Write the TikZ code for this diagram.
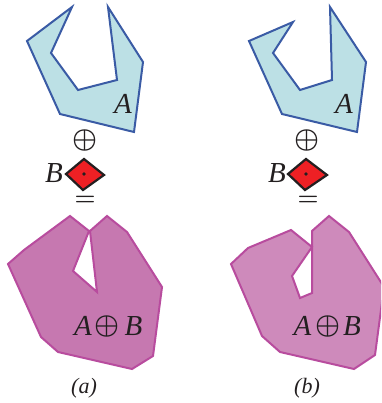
\documentclass[tikz,border=0pt]{standalone}
\usepackage{fix-cm}
\usepackage{fontspec}
\setmainfont{Liberation Serif}
\definecolor{bluefill}{HTML}{BCE0E5}
\definecolor{blueline}{HTML}{3A5BA5}
\definecolor{purpa}{HTML}{C678B0}
\definecolor{purpb}{HTML}{CE8ABB}
\definecolor{purpline}{HTML}{B84C9E}
\definecolor{redfill}{HTML}{EE2024}
\definecolor{inkc}{HTML}{231F20}
\tikzset{
  polya/.style={draw=blueline,fill=bluefill,line width=2pt,line join=miter},
  polysum/.style={draw=purpline,line width=2pt,line join=miter},
  polyb/.style={draw=inkc,fill=redfill,line width=2.2pt,line join=miter},
  lab/.style={inner sep=0pt,text=inkc,font=\fontsize{29}{31}\selectfont\itshape},
  sym/.style={inner sep=0pt,text=inkc,font=\fontsize{28}{30}\selectfont\boldmath},
  eqsym/.style={inner sep=0pt,text=inkc,font=\fontsize{24}{26}\selectfont\boldmath},
  captext/.style={inner sep=0pt,text=inkc,font=\fontsize{22}{24}\selectfont\itshape},
  dotb/.style={circle,fill=inkc,inner sep=0pt,minimum size=3.8pt}
}
\begin{document}
\begin{tikzpicture}[x=1pt,y=-1pt]
\useasboundingbox (0,0) rectangle (381,403);
\clip (0,0) rectangle (381,403);
% (a) top polygon
\draw[polya] (72,7)--(27,41)--(60,114)--(134,132)--(143,62)--(108,7)--(117,80)--(78,90)--(51,53)--cycle;
\node[lab] (la) at (123,104) {A};
\node[sym] (opa) at (85,141) {$\oplus$};
\draw[polyb] (66,174)--(84,159)--(104,175)--(83,190)--cycle;
\node[dotb] (da) at (84,174) {};
\node[lab] (lba) at (54,173) {B};
\node[eqsym] (eqa) at (85,201) {$=$};
% (b) top polygon
\draw[polya] (293,22)--(249,41)--(282,114)--(357,132)--(366,62)--(330,7)--(332,80)--(300,90)--(273,53)--cycle;
\node[lab] (lb) at (344,104) {A};
\node[sym] (opb) at (307,141) {$\oplus$};
\draw[polyb] (288,174)--(306,159)--(327,175)--(305,190)--cycle;
\node[dotb] (db) at (306,174) {};
\node[lab] (lbb) at (277,173) {B};
\node[eqsym] (eqb) at (308,201) {$=$};
% (a) sum
\draw[polysum,fill=purpa] (70,216)--(24,250)--(8,264)--(41,337)--(58,352)--(132,369)--(153,356)--(162,287)--(127,232)--(107,216)--(90,231)--(97,292)--(73,271)--(89,231)--cycle;
\node[lab] (sa1) at (83,326) {A};
\node[sym] (sa2) at (107.5,326) {$\oplus$};
\node[lab] (sa3) at (133.5,326) {B};
\node[captext] (ca) at (84,388) {(a)};
% (b) sum
\draw[polysum,fill=purpb] (291,230)--(248,248)--(231,264)--(262,336)--(280,352)--(354,369)--(375,355)--(384,287)--(349,232)--(329,216)--(312,231)--(312,293)--(300,298)--(292,276)--(312,247)--cycle;
\node[lab] (sb1) at (302.5,326) {A};
\node[sym] (sb2) at (328,326) {$\oplus$};
\node[lab] (sb3) at (352,326) {B};
\node[captext] (cb) at (307,388) {(b)};
\end{tikzpicture}
\end{document}
